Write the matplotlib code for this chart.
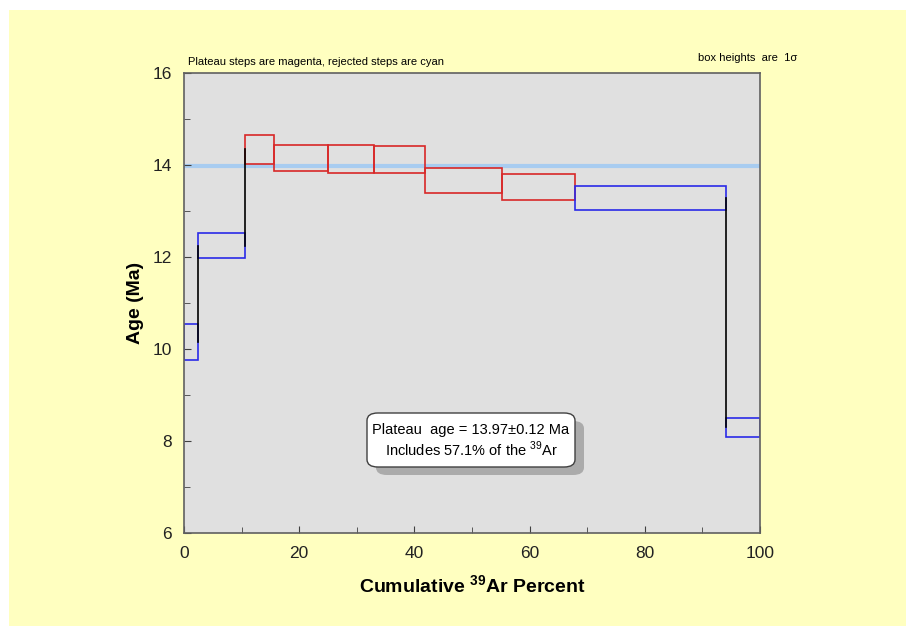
import matplotlib
matplotlib.use("Agg")
import matplotlib.pyplot as plt
from matplotlib.patches import Rectangle, FancyBboxPatch
from matplotlib.ticker import MultipleLocator

plt.rcParams['font.family'] = ['Liberation Sans', 'DejaVu Sans']
plt.rcParams['mathtext.fontset'] = 'custom'
plt.rcParams['mathtext.rm'] = 'Liberation Sans'
plt.rcParams['mathtext.bf'] = 'Liberation Sans:bold'

# Cumulative 39Ar percent boundaries of each step
cum_left = [0.0, 2.4, 10.6, 15.65, 25.05, 33.05, 41.8, 55.25, 67.9, 94.1]
cum_right = [2.4, 10.6, 15.65, 25.05, 33.05, 41.8, 55.25, 67.9, 94.1, 100.0]
age_top = [10.54, 12.52, 14.65, 14.43, 14.43, 14.41, 13.94, 13.81, 13.54, 8.51]
age_bot = [9.77, 11.98, 14.03, 13.86, 13.83, 13.83, 13.39, 13.25, 13.02, 8.09]
plateau = [False, False, True, True, True, True, True, True, False, False]
plateau_age = 13.97

W, H = 906, 626
fig = plt.figure(figsize=(W / 100, H / 100), dpi=100)
fig.patch.set_facecolor('white')
fig.patches.append(Rectangle((9 / W, 0), 1 - 9 / W, 1 - 10 / H, transform=fig.transFigure,
                             facecolor='#FFFFC0', edgecolor='none', zorder=-5))

ax = fig.add_axes([184 / W, 1 - 533 / H, (760 - 184) / W, (533 - 73) / H])
ax.set_zorder(1)
ax.set_facecolor('#E0E0E0')
ax.set_xlim(0, 100)
ax.set_ylim(6, 16)

ax.axhline(plateau_age, color='#A8CCF0', lw=3, zorder=1)

red = '#D82828'
blue = '#2A2AE8'
for i in range(len(cum_left)):
    c = red if plateau[i] else blue
    ax.add_patch(Rectangle((cum_left[i], age_bot[i]), cum_right[i] - cum_left[i],
                           age_top[i] - age_bot[i], facecolor='none', edgecolor=c,
                           lw=1.2, zorder=2))

# black connectors between midpoints where boxes do not overlap
for i in range(len(cum_left) - 1):
    overlap = not (age_top[i] < age_bot[i + 1] or age_top[i + 1] < age_bot[i])
    if not overlap:
        m1 = (age_top[i] + age_bot[i]) / 2
        m2 = (age_top[i + 1] + age_bot[i + 1]) / 2
        ax.plot([cum_right[i], cum_right[i]], [m1, m2], color='black', lw=1.2, zorder=3)

ax.xaxis.set_major_locator(MultipleLocator(20))
ax.xaxis.set_minor_locator(MultipleLocator(10))
ax.yaxis.set_major_locator(MultipleLocator(2))
ax.yaxis.set_minor_locator(MultipleLocator(1))
ax.tick_params(which='both', direction='in', top=False, right=False, color='#404040')
ax.tick_params(which='major', length=5, labelsize=12.5, labelcolor='#222222')
ax.tick_params(axis='x', which='major', pad=9)
ax.tick_params(axis='y', which='major', pad=9)
ax.tick_params(which='minor', length=4)
for s in ax.spines.values():
    s.set_color('#606060')
    s.set_linewidth(1.2)

ax.set_xlabel(r'Cumulative $^{\mathbf{39}}$Ar Percent', fontsize=14, fontweight='bold', labelpad=10)
ax.set_ylabel('Age (Ma)', fontsize=14, fontweight='bold', labelpad=6)

fig.text(188 / W, 1 - 62 / H, 'Plateau steps are magenta, rejected steps are cyan',
         fontsize=8, va='center', ha='left', color='black')
fig.text(797 / W, 1 - 58 / H, 'box heights  are  1σ', fontsize=8, va='center', ha='right',
         color='black')

# annotation box with shadow
bx, by, bw, bh = 367, 413, 208, 54
def fbox(x0, y0, fc, ec, z):
    p = FancyBboxPatch((x0 / W, 1 - (y0 + bh) / H), bw / W, bh / H,
                       boxstyle='round,pad=0,rounding_size=0.012',
                       transform=fig.transFigure, facecolor=fc, edgecolor=ec, lw=1, zorder=z)
    fig.patches.append(p)
fbox(bx + 9, by + 8, '#ABABAB', 'none', 5)
fbox(bx, by, 'white', '#404040', 6)
fig.text((bx + bw / 2) / W, 1 - (by + 17) / H, 'Plateau  age = 13.97±0.12 Ma',
         fontsize=10.5, ha='center', va='center', zorder=7)
fig.text((bx + bw / 2) / W, 1 - (by + 36) / H, r'Includes 57.1% of the $^{39}$Ar',
         fontsize=10.5, ha='center', va='center', zorder=7)

fig.savefig('out.png', dpi=100, facecolor=fig.get_facecolor())
